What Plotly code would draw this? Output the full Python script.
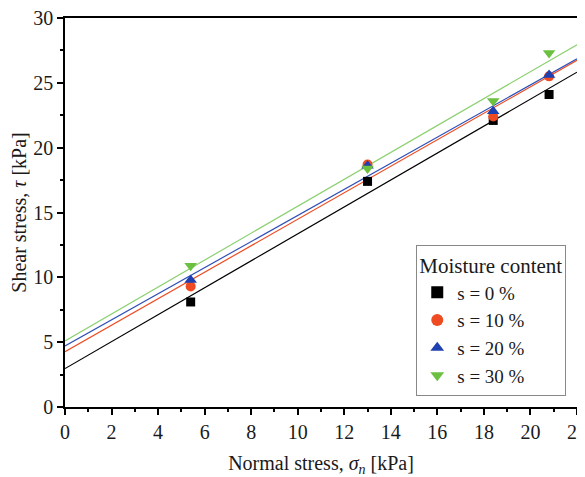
import numpy as np
import plotly.graph_objects as go

normal_stress = [5.4, 13.0, 18.4, 20.8]
series_names = ["s = 0 %", "s = 10 %", "s = 20 %", "s = 30 %"]
shear_s0 = [8.1, 17.4, 22.1, 24.1]
shear_s10 = [9.3, 18.7, 22.4, 25.5]
shear_s20 = [9.8, 18.6, 22.8, 25.6]
shear_s30 = [10.9, 18.4, 23.6, 27.3]
series_values = [shear_s0, shear_s10, shear_s20, shear_s30]

marker_symbols = ["square", "circle", "triangle-up", "triangle-down"]
marker_sizes = [9, 10, 11, 11]
marker_colors = ["#000000", "#EE4B22", "#1E40B0", "#6CC040"]
line_colors = ["#000000", "#EE4B22", "#3050B8", "#8CD070"]

x_fit = np.array([0.0, 22.0])

FF = "Times New Roman, Liberation Serif, serif"
TXT = "#1a1a1a"

fig = go.Figure()
for name, vals, lc in zip(series_names, series_values, line_colors):
    slope, intercept = np.polyfit(normal_stress, vals, 1)
    fig.add_trace(go.Scatter(x=x_fit, y=slope * x_fit + intercept, mode="lines",
                             line=dict(color=lc, width=1.2), showlegend=False, hoverinfo="skip"))
for name, vals, sym, ms, mc in zip(series_names, series_values, marker_symbols, marker_sizes, marker_colors):
    fig.add_trace(go.Scatter(x=normal_stress, y=vals, mode="markers", name=name,
                             marker=dict(symbol=sym, color=mc, size=ms, line=dict(width=0))))

# The page body has an 8 px margin; the figure is sized so it fits the 585x477 window.
fig.update_layout(
    template="none",
    width=577, height=469,
    margin=dict(l=57, r=8, t=10, b=70, autoexpand=False),
    plot_bgcolor="white", paper_bgcolor="white",
    font=dict(family=FF, size=20, color=TXT),
    legend=dict(
        title=dict(text="Moisture content", font=dict(size=21, family=FF, color=TXT)),
        x=0.979, y=0.028, xanchor="right", yanchor="bottom",
        bordercolor="#888", borderwidth=1, bgcolor="white",
        font=dict(size=19, family=FF, color=TXT),
        itemsizing="constant", tracegroupgap=0,
    ),
    xaxis=dict(
        range=[0, 22], tickvals=list(range(0, 23, 2)),
        showgrid=False, zeroline=False, automargin=False, ticklabeloverflow="allow",
        showline=True, linecolor="black", linewidth=1.5, mirror=True,
        ticks="outside", ticklen=6, tickwidth=1.5, tickcolor="black",
        minor=dict(tickvals=list(range(1, 22, 2)), ticks="outside", ticklen=3, tickwidth=1.5, tickcolor="black", showgrid=False),
        title=dict(text="Normal stress, <i>σ</i><sub><i>n</i></sub> [kPa]", font=dict(size=20, family=FF, color=TXT), standoff=15),
        tickfont=dict(size=20, family=FF, color=TXT),
    ),
    yaxis=dict(
        range=[0, 30], tickvals=list(range(0, 31, 5)),
        showgrid=False, zeroline=False, automargin=False, ticklabeloverflow="allow",
        showline=True, linecolor="black", linewidth=1.5, mirror=True,
        ticks="outside", ticklen=6, tickwidth=1.5, tickcolor="black",
        minor=dict(tickvals=[2.5, 7.5, 12.5, 17.5, 22.5, 27.5], ticks="outside", ticklen=3, tickwidth=1.5, tickcolor="black", showgrid=False),
        title=dict(text="Shear stress, <i>τ</i> [kPa]", font=dict(size=20, family=FF, color=TXT), standoff=2),
        tickfont=dict(size=20, family=FF, color=TXT),
    ),
)

fig.write_html("out.html")
